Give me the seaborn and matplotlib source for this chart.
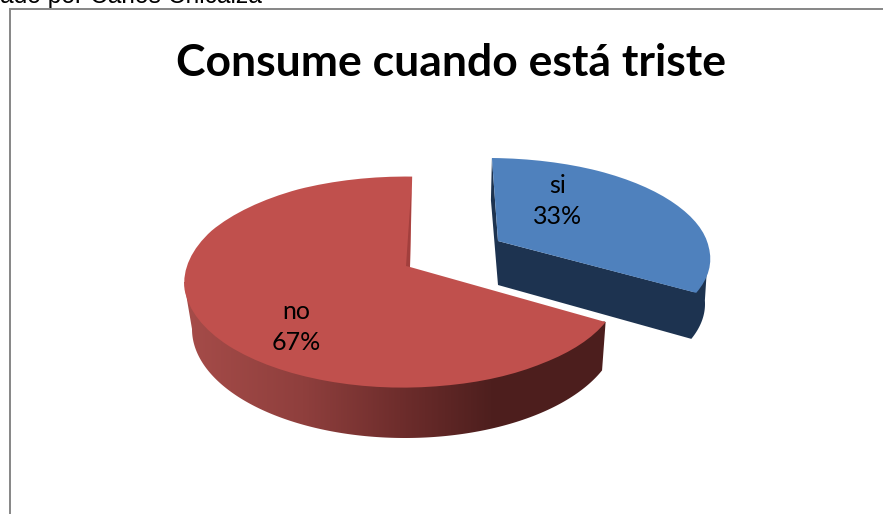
import numpy as np
import seaborn as sns
import matplotlib
matplotlib.use("Agg")
import matplotlib.pyplot as plt
from matplotlib.patches import Polygon
from matplotlib.transforms import Transform
from matplotlib.colors import LinearSegmentedColormap

categories = ["si", "no"]
values = [33, 67]
title = "Consume cuando está triste"
caption = "ado por Carlos Chicaiza"

W, H = 883, 514
sns.set_theme(style="white")
plt.rcParams["font.family"] = ["Lato", "DejaVu Sans"]
palette = sns.color_palette(["#4F81BD", "#C0504D"])

# projection of each slice (pixel space)
PROJ = {
    "si": dict(c=(490, 258), rx=220, ry=100, apex=(498, 241), off=-0.5,
               c2=(487, 304), rx2=218, ry2=100, apex2=(498, 285)),
    "no": dict(c=(403, 282), rx=219, ry=105.5, apex=(410, 267), off=-2.4,
               c2=(405, 329), rx2=213, ry2=109, apex2=(410, 317)),
}
SKEW = 6.0


def warp_deg(t, off):
    return t + SKEW * (1 - np.sin(np.radians(t))) + off


class Tilt(Transform):
    input_dims = output_dims = 2

    def __init__(self, p):
        super().__init__()
        self.p = p

    def transform_non_affine(self, v):
        v = np.asarray(v, float)
        p = self.p
        r = np.hypot(v[:, 0], v[:, 1])
        t = np.degrees(np.arctan2(v[:, 1], v[:, 0]))
        a = np.radians(warp_deg(t, p["off"]))
        ex = p["c"][0] + p["rx"] * np.cos(a)
        ey = p["c"][1] - p["ry"] * np.sin(a)
        return np.column_stack([p["apex"][0] + r * (ex - p["apex"][0]),
                                p["apex"][1] + r * (ey - p["apex"][1])])


def arc(c, rx, ry, a0, a1, n=120):
    a = np.radians(np.linspace(a0, a1, n))
    return np.column_stack([c[0] + rx * np.cos(a), c[1] - ry * np.sin(a)])


fig = plt.figure(figsize=(W / 100, H / 100), dpi=100, facecolor="white")
ax = fig.add_axes([0, 0, 1, 1])
wedges, _ = ax.pie(values, colors=palette, startangle=90, counterclock=False)
ax.set_aspect("auto")
ax.set_xlim(0, W)
ax.set_ylim(H, 0)
ax.axis("off")

blue, red = wedges
pb, pr = PROJ["si"], PROJ["no"]
blue.set_transform(Tilt(pb) + ax.transData)
red.set_transform(Tilt(pr) + ax.transData)
blue.set_zorder(3)
red.set_zorder(6)
for w in wedges:
    w.set_linewidth(0)
    w.set_clip_on(False)

# blue walls (top arc tucked slightly under the slice)
navy = "#1D3350"
corner = warp_deg(blue.theta1, pb["off"])
start = warp_deg(blue.theta2, pb["off"])
top = arc(pb["c"], pb["rx"] - 2, pb["ry"] - 2, corner, 2)
bot = arc(pb["c2"], pb["rx2"], pb["ry2"], 2, corner)
ax.add_patch(Polygon(np.vstack([[pb["apex"]], top, bot, [pb["apex2"]]]),
                     fc=navy, lw=0, zorder=2))
st_top = arc(pb["c"], pb["rx"], pb["ry"], start, start, 1)[0]
ax.add_patch(Polygon([st_top, pb["apex"], pb["apex2"], (st_top[0] - 1, st_top[1] + 42)],
                     fc=navy, lw=0, zorder=2))

# red wall with horizontal gradient
corner = warp_deg(red.theta2, pr["off"])
top = arc(pr["c"], pr["rx"] - 2, pr["ry"] - 2, -180, corner, 200)
bot = arc(pr["c2"], pr["rx2"], pr["ry2"], corner, -180, 200)
true_left = arc(pr["c"], pr["rx"], pr["ry"], -180, -180, 1)
true_corner = arc(pr["c"], pr["rx"], pr["ry"], corner, corner, 1)
wall = Polygon(np.vstack([true_left, top, true_corner, bot]), fc="none", lw=0,
               transform=ax.transData)
ax.add_patch(wall)
cmap = LinearSegmentedColormap.from_list(
    "wall", [(0, "#A64C49"), (0.28, "#8F3F3D"), (0.52, "#6C2C2B"),
             (0.72, "#4E1F1E"), (1, "#4C1E1D")])
im = ax.imshow(np.linspace(0, 1, 256)[None, :], cmap=cmap, aspect="auto",
               extent=(184, 610, 445, 280), zorder=5, interpolation="bilinear")
im.set_clip_path(wall)
ax.set_xlim(0, W)
ax.set_ylim(H, 0)

# darker sliver of the back cut of the red slice
back = warp_deg(red.theta1, pr["off"])
back_top = arc(pr["c"], pr["rx"], pr["ry"], back, back, 1)[0]
ax.add_patch(Polygon([(back_top[0] - 1, back_top[1] + 14), pr["apex"],
                      (pr["apex"][0] - 4, pr["apex"][1] - 1)],
                     fc="#A23F3D", lw=0, zorder=7))

# labels
lab_pos = {"si": (558, 201), "no": (296, 327)}
for name, val in zip(categories, values):
    x, y = lab_pos[name]
    ax.text(x, y, f"{name}\n{val}%", ha="center", va="center", fontsize=18,
            color="black", linespacing=1.47, zorder=8)

ax.text(451, 63, title, ha="center", va="center", fontsize=32,
        fontweight="bold", color="black", zorder=8)

# chart frame and cropped caption above it
ax.plot([10, 10, W + 5], [H + 5, 8.5, 8.5], color="#868686", lw=1.4, zorder=1,
        solid_joinstyle="miter", clip_on=True)
ax.text(262, 3, caption, ha="right", va="baseline", fontsize=17.7,
        family=["Liberation Sans"], color="black", zorder=8)

fig.savefig("out.png", dpi=100)
